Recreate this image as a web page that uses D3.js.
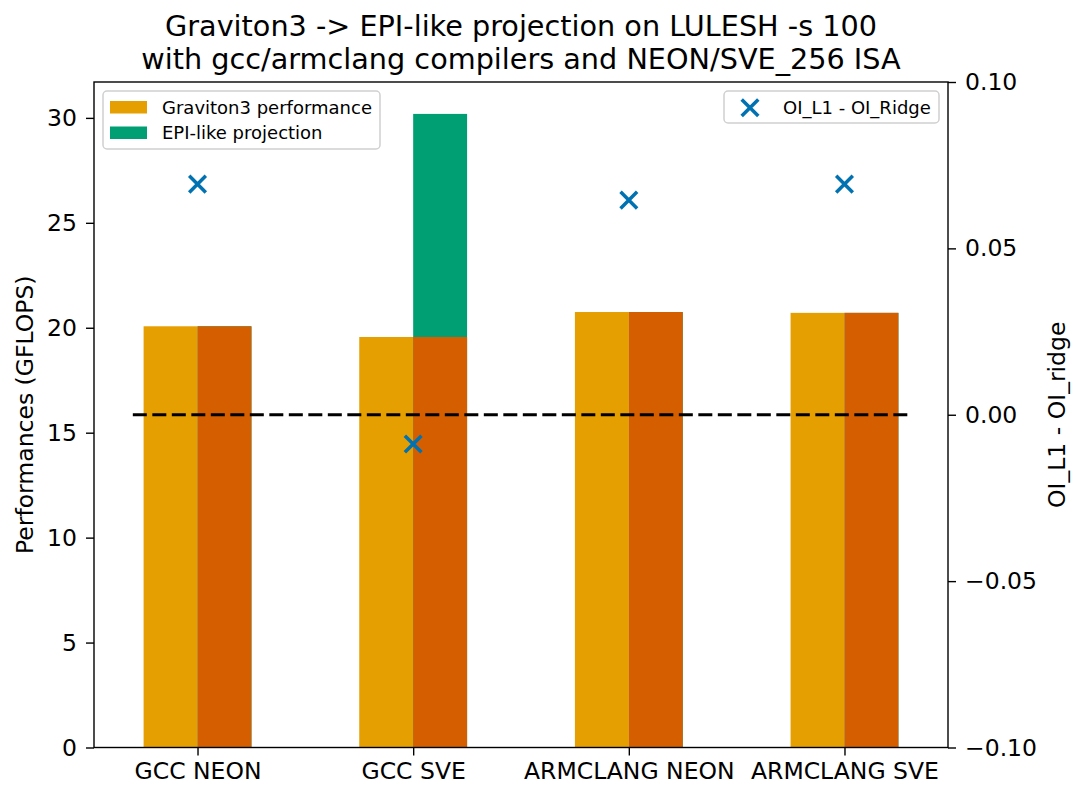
<!DOCTYPE html>
<html>
<head>
<meta charset="utf-8">
<script src="https://cdn.jsdelivr.net/npm/d3@7"></script>
<style>
  html, body { margin: 0; padding: 0; background: #fff; }
  svg { display: block; font-family: "DejaVu Sans", sans-serif; }
</style>
</head>
<body>
<svg id="chart" width="1073" height="785"></svg>
<script>
// ---- data ----
const categories = ["GCC NEON", "GCC SVE", "ARMCLANG NEON", "ARMCLANG SVE"];
const graviton3Perf = [20.07, 19.56, 20.75, 20.71];
const graviton3Right = [20.07, 19.56, 20.75, 20.71];
const epiProjection = [20.07, 30.19, 20.75, 20.71];
const oiDiff = [0.0693, -0.0088, 0.0645, 0.0693];
const leftTicks = [0, 5, 10, 15, 20, 25, 30];
const rightTicks = [-0.10, -0.05, 0.00, 0.05, 0.10];
const titleLines = ["Graviton3 -> EPI-like projection on LULESH -s 100",
                    "with gcc/armclang compilers and NEON/SVE_256 ISA"];
const legendLeft = ["Graviton3 performance", "EPI-like projection"];
const legendRight = "OI_L1 - OI_Ridge";
const yLabelLeft = "Performances (GFLOPS)";
const yLabelRight = "OI_L1 - OI_ridge";

// ---- layout ----
const W = 1073, H = 785;
const L = 94, R = 948, T = 82, B = 747.5;
const colOrange = "#E69F00", colRed = "#D55E00", colGreen = "#009E73", colBlue = "#0072B2";
const barW = 0.25;

const svg = d3.select("#chart");

const x = d3.scaleLinear().domain([-0.48, 3.48]).range([L, R]);
const y = d3.scaleLinear().domain([0, 31.71]).range([B, T]);
const y2 = d3.scaleLinear().domain([-0.1, 0.1]).range([B, T]);

const idx = categories.map((c, i) => i);

// green (behind)
svg.append("g").selectAll("rect").data(idx).join("rect")
  .attr("x", i => x(i))
  .attr("width", i => x(i + barW) - x(i))
  .attr("y", i => y(epiProjection[i]))
  .attr("height", i => y(0) - y(epiProjection[i]))
  .attr("fill", colGreen);

// orange
svg.append("g").selectAll("rect").data(idx).join("rect")
  .attr("x", i => x(i - barW))
  .attr("width", i => x(i) - x(i - barW))
  .attr("y", i => y(graviton3Perf[i]))
  .attr("height", i => y(0) - y(graviton3Perf[i]))
  .attr("fill", colOrange);

// red
svg.append("g").selectAll("rect").data(idx).join("rect")
  .attr("x", i => x(i))
  .attr("width", i => x(i + barW) - x(i))
  .attr("y", i => y(graviton3Right[i]))
  .attr("height", i => y(0) - y(graviton3Right[i]))
  .attr("fill", colRed);

// dashed zero line on right axis
svg.append("line")
  .attr("x1", x(-0.3)).attr("x2", x(3.3))
  .attr("y1", y2(0)).attr("y2", y2(0))
  .attr("stroke", "#000").attr("stroke-width", 3)
  .attr("stroke-dasharray", "14,5.5");

// scatter x markers
const ms = 8.3;
const mk = svg.append("g").selectAll("g").data(idx).join("g")
  .attr("transform", i => `translate(${x(i)},${y2(oiDiff[i])})`);
mk.append("path")
  .attr("d", `M${-ms},${-ms}L${ms},${ms}M${-ms},${ms}L${ms},${-ms}`)
  .attr("stroke", colBlue).attr("stroke-width", 3.5).attr("fill", "none");

// axes
const fs = 23.5;
const axL = svg.append("g").attr("transform", `translate(${L},0)`)
  .call(d3.axisLeft(y).tickValues(leftTicks).tickFormat(d3.format("d")).tickSize(8).tickPadding(9));
const axR = svg.append("g").attr("transform", `translate(${R},0)`)
  .call(d3.axisRight(y2).tickValues(rightTicks).tickFormat(d => d3.format(".2f")(d).replace("-", "\u2212")).tickSize(8).tickPadding(9));
const axB = svg.append("g").attr("transform", `translate(0,${B})`)
  .call(d3.axisBottom(x).tickValues(idx).tickFormat(i => categories[i]).tickSize(8).tickPadding(7));
[axL, axR, axB].forEach(a => {
  a.select(".domain").remove();
  a.selectAll("line").attr("stroke", "#000").attr("stroke-width", 1.4);
  a.selectAll("text").attr("font-size", fs).attr("fill", "#000").attr("font-family", "DejaVu Sans");
});
axB.selectAll("text").attr("dy", "0.71em");

// frame
svg.append("rect").attr("x", L).attr("y", T).attr("width", R - L).attr("height", B - T)
  .attr("fill", "none").attr("stroke", "#000").attr("stroke-width", 1.4);

// title
svg.append("g").selectAll("text").data(titleLines).join("text")
  .attr("x", (L + R) / 2)
  .attr("y", (d, i) => 35.7 + i * 33.6)
  .attr("text-anchor", "middle")
  .attr("font-size", 28.7)
  .attr("fill", "#000")
  .text(d => d);

// y labels
svg.append("text")
  .attr("transform", `translate(33,${(T + B) / 2}) rotate(-90)`)
  .attr("text-anchor", "middle").attr("font-size", fs).attr("fill", "#000")
  .text(yLabelLeft);
svg.append("text")
  .attr("transform", `translate(1065,${(T + B) / 2}) rotate(-90)`)
  .attr("text-anchor", "middle").attr("font-size", fs).attr("fill", "#000")
  .text(yLabelRight);

// left legend
const lg = svg.append("g");
lg.append("rect").attr("x", 103).attr("y", 91).attr("width", 277).attr("height", 58)
  .attr("rx", 4).attr("fill", "#fff").attr("fill-opacity", 0.8)
  .attr("stroke", "#d0d0d0").attr("stroke-width", 1.5);
const legCols = [colOrange, colGreen];
lg.selectAll(".sw").data(legendLeft).join("rect").attr("class", "sw")
  .attr("x", 110).attr("y", (d, i) => 101 + i * 25.5)
  .attr("width", 37).attr("height", 12.5)
  .attr("fill", (d, i) => legCols[i]);
lg.selectAll(".lt").data(legendLeft).join("text").attr("class", "lt")
  .attr("x", 162).attr("y", (d, i) => 113.5 + i * 25.5)
  .attr("font-size", 18).attr("fill", "#000")
  .text(d => d);

// right legend
const rg = svg.append("g");
rg.append("rect").attr("x", 724).attr("y", 91).attr("width", 215).attr("height", 32)
  .attr("rx", 4).attr("fill", "#fff").attr("fill-opacity", 0.8)
  .attr("stroke", "#d0d0d0").attr("stroke-width", 1.5);
rg.append("path")
  .attr("transform", "translate(750,107.7)")
  .attr("d", `M${-ms},${-ms}L${ms},${ms}M${-ms},${ms}L${ms},${-ms}`)
  .attr("stroke", colBlue).attr("stroke-width", 3.5).attr("fill", "none");
rg.append("text").attr("x", 783).attr("y", 114).attr("font-size", 18).attr("fill", "#000")
  .text(legendRight);
</script>
</body>
</html>
